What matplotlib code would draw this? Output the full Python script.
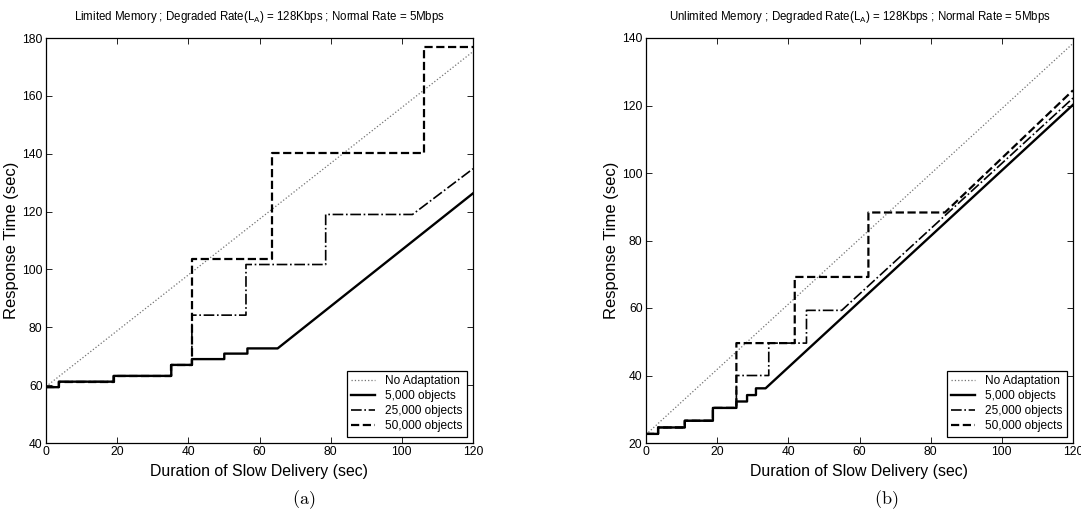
import numpy as np
import matplotlib
matplotlib.use("Agg")
import matplotlib.pyplot as plt

plt.rcParams['font.family'] = ['Liberation Sans', 'DejaVu Sans']
plt.rcParams['mathtext.fontset'] = 'custom'
plt.rcParams['mathtext.rm'] = 'Liberation Sans'

labels = ["No Adaptation", "5,000 objects", "25,000 objects", "50,000 objects"]

# (a) limited memory
lim_none_x = [0, 120]
lim_none_y = [59.5, 175.3]
lim_5k_x = [0, 3.6, 3.6, 19, 19, 35.2, 35.2, 41, 41, 50.1, 50.1, 56.6, 56.6, 65.1, 120]
lim_5k_y = [59.3, 59.3, 61.2, 61.2, 63.2, 63.2, 67.0, 67.0, 69.0, 69.0, 70.9, 70.9, 72.7, 72.7, 126.3]
lim_25k_x = [0, 3.6, 3.6, 19, 19, 35.2, 35.2, 41, 41, 56.2, 56.2, 78.6, 78.6, 103, 120]
lim_25k_y = [59.3, 59.3, 61.2, 61.2, 63.2, 63.2, 67.0, 67.0, 84.2, 84.2, 101.7, 101.7, 119.0, 119.0, 134.8]
lim_50k_x = [0, 3.6, 3.6, 19, 19, 35.2, 35.2, 41, 41, 63.6, 63.6, 106.2, 106.2, 120]
lim_50k_y = [59.3, 59.3, 61.2, 61.2, 63.2, 63.2, 67.0, 67.0, 103.7, 103.7, 140.3, 140.3, 177.0, 177.0]

# (b) unlimited memory
unl_none_x = [0, 120]
unl_none_y = [22.5, 138.4]
unl_5k_x = [0, 3.4, 3.4, 10.9, 10.9, 18.8, 18.8, 25.4, 25.4, 28.4, 28.4, 30.9, 30.9, 33.6, 120]
unl_5k_y = [22.7, 22.7, 24.6, 24.6, 26.6, 26.6, 30.4, 30.4, 32.3, 32.3, 34.2, 34.2, 36.2, 36.2, 120.2]
unl_25k_x = [0, 3.4, 3.4, 10.9, 10.9, 18.8, 18.8, 25.4, 25.4, 34.5, 34.5, 45.1, 45.1, 55.0, 120]
unl_25k_y = [22.7, 22.7, 24.6, 24.6, 26.6, 26.6, 30.4, 30.4, 40.0, 40.0, 49.6, 49.6, 59.3, 59.3, 122.2]
unl_50k_x = [0, 3.4, 3.4, 10.9, 10.9, 18.8, 18.8, 25.4, 25.4, 41.8, 41.8, 62.5, 62.5, 84.0, 120]
unl_50k_y = [22.7, 22.7, 24.6, 24.6, 26.6, 26.6, 30.4, 30.4, 49.6, 49.6, 69.2, 69.2, 88.3, 88.3, 124.5]

W, H = 1081, 515
fig = plt.figure(figsize=(W / 100, H / 100), dpi=100)


def panel(left_px, title, series, ylim, yticks, caption, cap_off):
    ax = fig.add_axes([left_px / W, (H - 443) / H, 427 / W, 405 / H])
    styles = [dict(color='0.45', ls=':', lw=0.9),
              dict(color='black', ls='-', lw=1.7),
              dict(color='black', ls='-.', lw=1.2),
              dict(color='black', ls='--', lw=1.6)]
    for (xs, ys), st, lab in zip(series, styles, labels):
        ax.plot(xs, ys, label=lab, **st)
    ax.set_xlim(0, 120)
    ax.set_ylim(*ylim)
    ax.set_xticks(np.arange(0, 121, 20))
    ax.set_yticks(yticks)
    ax.tick_params(direction='in', top=True, right=True, length=4, width=0.6,
                   labelsize=8.7, pad=2.5)
    for sp in ax.spines.values():
        sp.set_linewidth(0.9)
    ax.set_title(title, fontsize=8.3, pad=13)
    ax.set_xlabel("Duration of Slow Delivery (sec)", fontsize=11.4, labelpad=4)
    ax.set_ylabel("Response Time (sec)", fontsize=12, labelpad=2)
    leg = ax.legend(loc='lower right', fontsize=8.6, fancybox=False, framealpha=1,
                    edgecolor='black', handlelength=2.0, handletextpad=0.8,
                    labelspacing=0.25, borderpad=0.4, borderaxespad=0.5)
    leg.get_frame().set_linewidth(0.9)
    fig.text((left_px + cap_off) / W, 1 - 500 / H, caption, fontsize=13,
             math_fontfamily='cm', ha='center', va='center')
    return ax


panel(46, "Limited Memory ; Degraded Rate(L$_\\mathrm{A}$) = 128Kbps ; Normal Rate = 5Mbps",
      [(lim_none_x, lim_none_y), (lim_5k_x, lim_5k_y),
       (lim_25k_x, lim_25k_y), (lim_50k_x, lim_50k_y)],
      (40, 180), np.arange(40, 181, 20), r'$(\mathrm{a})$', 258)
panel(646, "Unlimited Memory ; Degraded Rate(L$_\\mathrm{A}$) = 128Kbps ; Normal Rate = 5Mbps",
      [(unl_none_x, unl_none_y), (unl_5k_x, unl_5k_y),
       (unl_25k_x, unl_25k_y), (unl_50k_x, unl_50k_y)],
      (20, 140), np.arange(20, 141, 20), r'$(\mathrm{b})$', 240)

fig.savefig("out.png", dpi=100)
